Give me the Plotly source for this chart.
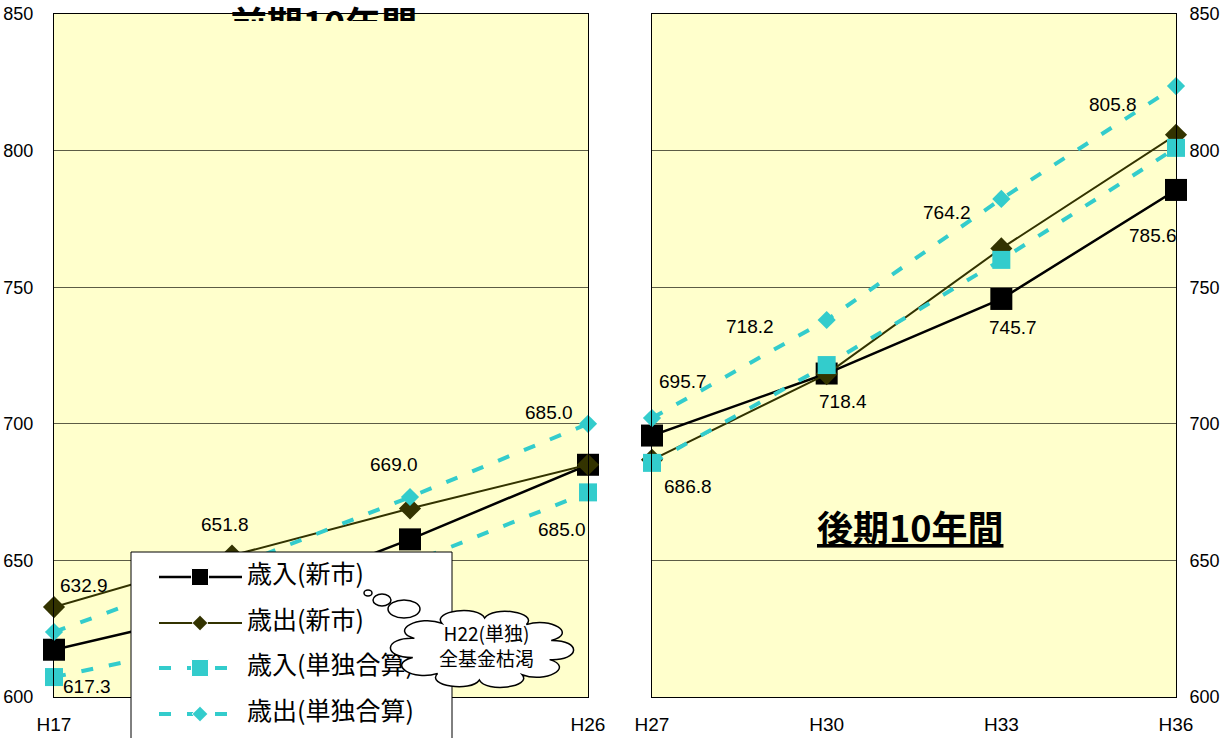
import math
import plotly.graph_objects as go

# ---- data -------------------------------------------------------------
years_early = [17, 20, 23, 26]
years_late = [27, 30, 33, 36]
tick_early_vals = [17, 26]
tick_early = ["H17", "H26"]
tick_late = ["H27", "H30", "H33", "H36"]

series_names = ["歳入(新市)", "歳出(新市)", "歳入(単独合算)", "歳出(単独合算)"]

revenue_new_early = [617.3, 632.5, 657.7, 685.0]
expense_new_early = [632.9, 651.8, 669.0, 685.0]
revenue_solo_early = [607.3, 621.0, 649.0, 674.9]
expense_solo_early = [623.8, 647.5, 673.2, 700.0]

revenue_new_late = [695.7, 718.4, 745.7, 785.6]
expense_new_late = [686.8, 718.2, 764.2, 805.8]
revenue_solo_late = [685.7, 721.5, 760.0, 801.0]
expense_solo_late = [702.1, 738.0, 782.3, 823.6]

y_ticks = [600, 650, 700, 750, 800, 850]

title_early = "前期10年間"
title_late = "後期10年間"
callout_text = ["H22(単独)", "全基金枯渇"]

# ---- page geometry (pixels) -----------------------------------------------
W, H = 1232, 738
LEFT_X = (54, 588)
RIGHT_X = (652, 1176)
PLOT_Y = (14, 697)          # top, bottom


def fx(p):
    return p / W


def fy(p):
    return 1 - p / H


FONT = "Liberation Sans Narrow, Arial Narrow, Liberation Sans, Arial, Noto Sans CJK JP, sans-serif"
JFONT = "Noto Sans CJK JP, Liberation Sans, sans-serif"
BLACK = "#000000"
OLIVE = "#333300"
CYAN = "#33CCCC"
PANEL_BG = "#FFFFCC"
GRID = "#5c5c45"

styles = [
    dict(line=dict(color=BLACK, width=2.5),
         marker=dict(symbol="square", size=22, color=BLACK, opacity=1)),
    dict(line=dict(color=OLIVE, width=2),
         marker=dict(symbol="diamond", size=17, color=OLIVE, opacity=1)),
    dict(line=dict(color=CYAN, width=4, dash="12px,16px"),
         marker=dict(symbol="square", size=18, color=CYAN, opacity=1)),
    dict(line=dict(color=CYAN, width=4, dash="12px,16px"),
         marker=dict(symbol="diamond", size=14, color=CYAN, opacity=1)),
]

early = [revenue_new_early, expense_new_early, revenue_solo_early, expense_solo_early]
late = [revenue_new_late, expense_new_late, revenue_solo_late, expense_solo_late]

fig = go.Figure()

for name, vals, st in zip(series_names, early, styles):
    fig.add_trace(go.Scatter(x=years_early, y=vals, name=name, mode="lines+markers",
                             xaxis="x", yaxis="y", cliponaxis=False,
                             showlegend=False, hoverinfo="skip", **st))
for name, vals, st in zip(series_names, late, styles):
    fig.add_trace(go.Scatter(x=years_late, y=vals, name=name, mode="lines+markers",
                             xaxis="x2", yaxis="y2", cliponaxis=False,
                             showlegend=False, hoverinfo="skip", **st))

# ---- value labels (series index, point index, dx, dy) ----------------------
label_offsets_early = [
    (1, 0, 30, -22), (1, 1, -7, -31), (1, 2, -16, -44), (1, 3, -39, -52),
    (0, 0, 33, 37), (0, 3, -26, 65),
]
label_offsets_late = [
    (0, 0, 31, -54), (0, 1, 16, 28), (0, 2, 12, 29), (0, 3, -23, 46),
    (1, 0, 36, 27), (1, 1, -77, -48), (1, 2, -54, -36), (1, 3, -63, -30),
]
label_font = dict(family=FONT, size=19, color=BLACK)
annotations = []
for s, i, dx, dy in label_offsets_early:
    annotations.append(dict(x=years_early[i], y=early[s][i], xref="x", yref="y",
                            text=f"{early[s][i]:.1f}", showarrow=False,
                            xanchor="center", yanchor="middle",
                            xshift=dx, yshift=-dy, font=label_font))
for s, i, dx, dy in label_offsets_late:
    annotations.append(dict(x=years_late[i], y=late[s][i], xref="x2", yref="y2",
                            text=f"{late[s][i]:.1f}", showarrow=False,
                            xanchor="center", yanchor="middle",
                            xshift=dx, yshift=-dy, font=label_font))

# panel caption of the later period
annotations.append(dict(x=fx(910), y=fy(526), xref="paper", yref="paper",
                        xanchor="center", yanchor="middle",
                        text=f"<b><u>{title_late}</u></b>", showarrow=False,
                        font=dict(family=JFONT, size=36, color=BLACK)))

# callout text inside the cloud
annotations.append(dict(x=fx(486), y=fy(645), xref="paper", yref="paper",
                        xanchor="center", yanchor="middle",
                        text="<br>".join(callout_text), showarrow=False,
                        font=dict(family=JFONT, size=19, color=BLACK)))

# ---- hand drawn legend on its own pixel-scaled subplot ---------------------
LEG_X = (129, 455)
LEG_Y = (549, 738)
row_y = [577, 623, 668, 714]
key_x = [159, 200, 242]
key_marker = [17, 12, 17, 12]
for k, (name, st) in enumerate(zip(series_names, styles)):
    fig.add_trace(go.Scatter(
        x=key_x, y=[row_y[k]] * 3, mode="lines+markers", xaxis="x3", yaxis="y3",
        line=st["line"],
        marker=dict(symbol=st["marker"]["symbol"], color=st["marker"]["color"],
                    size=[0, key_marker[k], 0], opacity=1),
        showlegend=False, hoverinfo="skip"))
fig.add_trace(go.Scatter(
    x=[247] * 4, y=row_y, mode="text", text=series_names, textposition="middle right",
    textfont=dict(family=JFONT, size=25, color=BLACK), xaxis="x3", yaxis="y3",
    showlegend=False, hoverinfo="skip", cliponaxis=True))

# ---- caption of the earlier period, cut off at the top of the page ---------
fig.add_trace(go.Scatter(
    x=[324], y=[-29], mode="text", text=[f"<b>{title_early}</b>"],
    textposition="middle center", cliponaxis=True,
    textfont=dict(family=JFONT, size=36, color=BLACK),
    xaxis="x4", yaxis="y4", showlegend=False, hoverinfo="skip"))

# ---- shapes -----------------------------------------------------------------
shapes = []
for x0, x1 in (LEFT_X, RIGHT_X):
    shapes.append(dict(type="rect", xref="paper", yref="paper", layer="below",
                       x0=fx(x0), x1=fx(x1), y0=fy(PLOT_Y[1]), y1=fy(PLOT_Y[0]),
                       fillcolor=PANEL_BG, line=dict(width=0)))

# legend box
shapes.append(dict(type="rect", xref="x3", yref="y3", layer="below",
                   x0=131, x1=452, y0=552, y1=760,
                   fillcolor="white", line=dict(color=BLACK, width=1)))

# cloud outline built from outward bulging arcs around an ellipse
cx, cy, rx, ry = 482, 649, 72, 31
n_bumps = 10
phase = 0.35
pts = []
for k in range(n_bumps + 1):
    a = 2 * math.pi * k / n_bumps + phase
    pts.append((cx + rx * math.cos(a), cy + ry * math.sin(a)))
path = f"M{fx(pts[0][0]):.5f},{fy(pts[0][1]):.5f}"
for k in range(n_bumps):
    a0 = 2 * math.pi * k / n_bumps + phase
    a1 = 2 * math.pi * (k + 1) / n_bumps + phase
    x1, y1 = pts[k + 1]
    b = 1.42
    c1 = (cx + rx * b * math.cos(a0 + (a1 - a0) * 0.12), cy + ry * b * math.sin(a0 + (a1 - a0) * 0.12))
    c2 = (cx + rx * b * math.cos(a1 - (a1 - a0) * 0.12), cy + ry * b * math.sin(a1 - (a1 - a0) * 0.12))
    path += (f" C{fx(c1[0]):.5f},{fy(c1[1]):.5f} {fx(c2[0]):.5f},{fy(c2[1]):.5f}"
             f" {fx(x1):.5f},{fy(y1):.5f}")
path += " Z"
shapes.append(dict(type="path", xref="paper", yref="paper", layer="above", path=path,
                   fillcolor="white", line=dict(color=BLACK, width=1.5)))

# thought bubbles
for bx, by, brx, bry in ((368, 593, 4, 3), (382, 600, 9, 6), (404, 609, 16, 9)):
    shapes.append(dict(type="circle", xref="paper", yref="paper", layer="above",
                       x0=fx(bx - brx), x1=fx(bx + brx), y0=fy(by + bry), y1=fy(by - bry),
                       fillcolor="white", line=dict(color=BLACK, width=1.5)))

# ---- axes -------------------------------------------------------------------
xtickfont = dict(family=FONT, size=19, color=BLACK)
ytickfont = dict(family=FONT, size=18, color=BLACK)
common_x = dict(showgrid=False, showline=True, linecolor=BLACK, linewidth=1, mirror=True,
                ticks="", tickfont=xtickfont, zeroline=False, fixedrange=True,
                ticklabelstandoff=10)
common_y = dict(range=[600, 850], tickvals=y_ticks, showgrid=True, gridcolor=GRID,
                gridwidth=1, showline=True, linecolor=BLACK, linewidth=1, mirror=True,
                ticks="", tickfont=ytickfont, zeroline=False, fixedrange=True)
hidden = dict(visible=False, fixedrange=True, showgrid=False, zeroline=False)

fig.update_layout(
    width=W, height=H,
    margin=dict(l=0, r=0, t=0, b=0, autoexpand=False),
    paper_bgcolor="white", plot_bgcolor="rgba(0,0,0,0)",
    showlegend=False,
    xaxis=dict(domain=[fx(LEFT_X[0]), fx(LEFT_X[1])], range=[17, 26], anchor="y",
               tickvals=tick_early_vals, ticktext=tick_early, **common_x),
    yaxis=dict(domain=[fy(PLOT_Y[1]), fy(PLOT_Y[0])], anchor="x", side="left",
               ticklabelstandoff=16, **common_y),
    xaxis2=dict(domain=[fx(RIGHT_X[0]), fx(RIGHT_X[1])], range=[27, 36], anchor="y2",
                tickvals=years_late, ticktext=tick_late, **common_x),
    yaxis2=dict(domain=[fy(PLOT_Y[1]), fy(PLOT_Y[0])], anchor="x2", side="right",
                ticklabelstandoff=9, **common_y),
    xaxis3=dict(domain=[fx(LEG_X[0]), fx(LEG_X[1])], range=list(LEG_X), anchor="y3", **hidden),
    yaxis3=dict(domain=[0, fy(LEG_Y[0])], range=[LEG_Y[1], LEG_Y[0]], anchor="x3", **hidden),
    xaxis4=dict(domain=[fx(LEFT_X[0]), fx(LEFT_X[1])], range=list(LEFT_X), anchor="y4", **hidden),
    yaxis4=dict(domain=[fy(21), 1], range=[-21, 0], anchor="x4", **hidden),
    shapes=shapes,
    annotations=annotations,
)

fig.write_html("out.html")
